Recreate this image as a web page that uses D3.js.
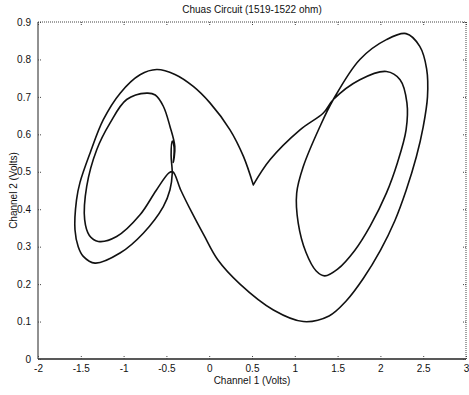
<!DOCTYPE html>
<html>
<head>
<meta charset="utf-8">
<script src="https://cdn.jsdelivr.net/npm/d3@7"></script>
<style>
  html, body { margin: 0; padding: 0; background: #fff; }
  text { font-family: "Liberation Sans", Arial, sans-serif; fill: #111; }
</style>
</head>
<body>
<svg id="chart" width="469" height="395"></svg>
<script>
// ---- data ----
const titleText = "Chuas Circuit (1519-1522 ohm)";
const xLabel = "Channel 1 (Volts)";
const yLabel = "Channel 2 (Volts)";
const xTicks = [-2, -1.5, -1, -0.5, 0, 0.5, 1, 1.5, 2, 2.5, 3];
const yTicks = [0, 0.1, 0.2, 0.3, 0.4, 0.5, 0.6, 0.7, 0.8, 0.9];

// trajectory traced along the attractor: Channel 1 (x) and Channel 2 (y)
const channel1 = [
  // cusp -> outer left loop
  0.515, 0.40, 0.243, 0.009, -0.186, -0.40, -0.613, -0.808, -1.04, -1.237, -1.39, -1.51, -1.55, -1.568, -1.53, -1.471, -1.334, -1.042, -0.770, -0.536, -0.458, -0.432,
  // small loop, inner left loop
  -0.445, -0.432, -0.41, -0.418, -0.402, -0.458, -0.536, -0.63, -0.730, -0.964, -1.159, -1.314, -1.431, -1.455, -1.40, -1.296, -1.081, -0.808, -0.62, -0.47,
  // long arc down to the right and outer right loop
  -0.425, -0.33, -0.20, -0.06, 0.10, 0.36, 0.75, 1.10, 1.40, 1.60, 1.80, 2.00, 2.17, 2.30, 2.42, 2.50, 2.55, 2.54, 2.46, 2.30, 2.07, 1.76, 1.45,
  // inner right loop, back to cusp
  1.294, 1.099, 1.022, 1.04, 1.13, 1.25, 1.35, 1.50, 1.70, 1.88, 2.07, 2.20, 2.30, 2.31, 2.23, 2.07, 1.76, 1.45, 1.333, 1.061, 0.710, 0.515
];
const channel2 = [
  0.465, 0.541, 0.612, 0.684, 0.728, 0.760, 0.773, 0.759, 0.710, 0.639, 0.551, 0.471, 0.425, 0.345, 0.30, 0.274, 0.256, 0.283, 0.336, 0.407, 0.452, 0.495,
  0.545, 0.582, 0.565, 0.525, 0.568, 0.621, 0.675, 0.705, 0.710, 0.693, 0.630, 0.559, 0.461, 0.372, 0.330, 0.314, 0.327, 0.385, 0.450, 0.497,
  0.500, 0.450, 0.390, 0.330, 0.265, 0.200, 0.131, 0.100, 0.115, 0.155, 0.215, 0.290, 0.370, 0.450, 0.540, 0.620, 0.700, 0.775, 0.835, 0.869, 0.853, 0.800, 0.693,
  0.621, 0.514, 0.443, 0.363, 0.285, 0.235, 0.222, 0.240, 0.290, 0.355, 0.443, 0.525, 0.612, 0.684, 0.746, 0.768, 0.746, 0.693, 0.657, 0.612, 0.532, 0.465
];

// ---- layout ----
const svg = d3.select("#chart");
const mLeft = 38, mRight = 466, mTop = 22, mBottom = 359;
const x = d3.scaleLinear().domain([-2, 3]).range([mLeft, mRight]);
const y = d3.scaleLinear().domain([0, 0.9]).range([mBottom, mTop]);

// frame: left/bottom solid, top/right dotted (scanned look)
svg.append("line").attr("x1", mLeft).attr("x2", mLeft).attr("y1", mTop).attr("y2", mBottom)
  .attr("stroke", "#222").attr("stroke-width", 1);
svg.append("line").attr("x1", mLeft).attr("x2", mRight).attr("y1", mBottom).attr("y2", mBottom)
  .attr("stroke", "#222").attr("stroke-width", 1.3);
svg.append("line").attr("x1", mLeft).attr("x2", mRight).attr("y1", mTop).attr("y2", mTop)
  .attr("stroke", "#444").attr("stroke-width", 1).attr("stroke-dasharray", "1,1");
svg.append("line").attr("x1", mRight).attr("x2", mRight).attr("y1", mTop).attr("y2", mBottom)
  .attr("stroke", "#444").attr("stroke-width", 1).attr("stroke-dasharray", "1,1");

const fmt = d => String(d);

// axes (ticks inward)
const gx = svg.append("g").attr("transform", `translate(0,${mBottom})`)
  .call(d3.axisBottom(x).tickValues(xTicks).tickSizeInner(-4).tickSizeOuter(0).tickPadding(7).tickFormat(fmt));
const gxTop = svg.append("g").attr("transform", `translate(0,${mTop})`)
  .call(d3.axisTop(x).tickValues(xTicks).tickSizeInner(-4).tickSizeOuter(0).tickFormat(""));
const gy = svg.append("g").attr("transform", `translate(${mLeft},0)`)
  .call(d3.axisLeft(y).tickValues(yTicks).tickSizeInner(-4).tickSizeOuter(0).tickPadding(7).tickFormat(fmt));
const gyR = svg.append("g").attr("transform", `translate(${mRight},0)`)
  .call(d3.axisRight(y).tickValues(yTicks).tickSizeInner(-4).tickSizeOuter(0).tickFormat(""));

[gx, gxTop, gy, gyR].forEach(g => {
  g.select(".domain").remove();
  g.selectAll(".tick line").attr("stroke", "#444").attr("stroke-dasharray", "1,1");
  g.selectAll("text").attr("font-family", "Liberation Sans, Arial, sans-serif")
    .attr("font-size", 10).attr("fill", "#111");
});
gx.selectAll(".tick text").attr("dy", "0.55em");

// trajectory
const pts = channel1.map((v, i) => [v, channel2[i]]);
const line = d3.line().x(d => x(d[0])).y(d => y(d[1])).curve(d3.curveCatmullRom.alpha(0.5));
svg.append("path").datum(pts).attr("d", line)
  .attr("fill", "none").attr("stroke", "#111").attr("stroke-width", 1.6)
  .attr("stroke-linejoin", "round").attr("stroke-linecap", "round");

// labels
svg.append("text").attr("x", (mLeft + mRight) / 2).attr("y", 13).attr("text-anchor", "middle")
  .attr("font-size", 10).text(titleText);
svg.append("text").attr("x", (mLeft + mRight) / 2).attr("y", 384).attr("text-anchor", "middle")
  .attr("font-size", 10).text(xLabel);
svg.append("text").attr("transform", `translate(17,${(mTop + mBottom) / 2}) rotate(-90)`)
  .attr("text-anchor", "middle").attr("font-size", 10).text(yLabel);
</script>
</body>
</html>
